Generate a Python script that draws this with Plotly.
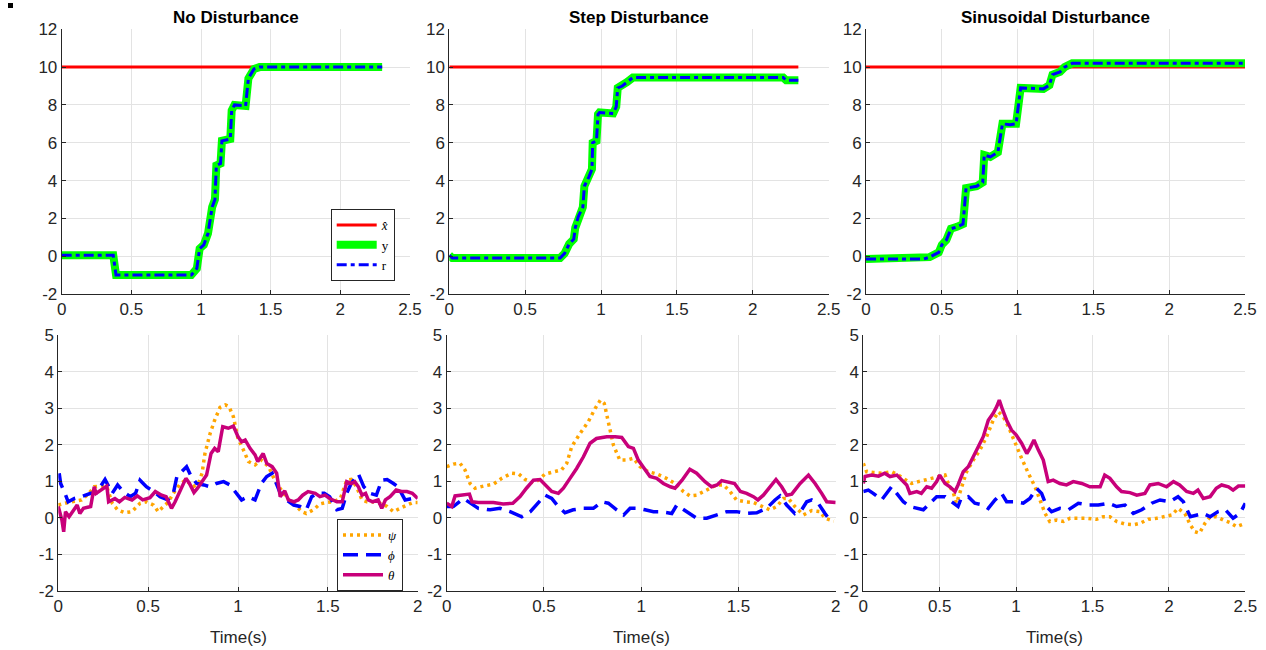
import plotly.graph_objects as go

W, H = 1266, 650

# ---------------- data: top row (position tracking) ----------------
xhat_level = 10
top_t_end = [2.3, 2.3, 2.5]

top1_t = [0, 0.37, 0.39, 0.93, 0.97, 0.99, 1.02, 1.05, 1.08, 1.10, 1.11, 1.14, 1.15, 1.21, 1.22, 1.24, 1.32, 1.33, 1.34, 1.38, 1.42, 2.3]
top1_y = [0.05, 0.05, -1.0, -1.0, -0.65, 0.4, 0.6, 1.2, 2.6, 3.0, 4.8, 4.9, 6.1, 6.2, 7.7, 8.0, 7.95, 8.9, 9.4, 9.9, 10.0, 10.0]

top2_t = [0, 0.02, 0.73, 0.76, 0.79, 0.82, 0.83, 0.85, 0.88, 0.89, 0.92, 0.94, 0.945, 0.97, 0.98, 0.99, 1.08, 1.10, 1.11, 1.14, 1.17, 1.21, 2.2, 2.22, 2.3]
top2_y = [0.05, -0.1, -0.1, 0.15, 0.65, 0.9, 1.5, 2.1, 2.6, 3.7, 4.2, 4.6, 6.0, 6.1, 7.5, 7.6, 7.55, 7.9, 8.9, 9.0, 9.2, 9.45, 9.45, 9.3, 9.3]

top3_t = [0, 0.38, 0.42, 0.48, 0.50, 0.53, 0.56, 0.60, 0.64, 0.66, 0.73, 0.77, 0.78, 0.82, 0.87, 0.90, 0.95, 0.99, 1.02, 1.17, 1.21, 1.23, 1.28, 1.31, 1.36, 2.5]
top3_y = [-0.15, -0.15, -0.05, 0.2, 0.6, 0.85, 1.45, 1.55, 1.7, 3.6, 3.7, 3.9, 5.35, 5.25, 5.5, 7.0, 6.95, 7.0, 8.9, 8.85, 9.05, 9.6, 9.75, 10.0, 10.2, 10.2]

# ---------------- data: bottom row (attitude angles) ----------------
# Panel 1: No disturbance
b1_theta_t = [0, 0.02, 0.03, 0.04, 0.06, 0.08, 0.105, 0.12, 0.14, 0.18, 0.2, 0.21, 0.24, 0.27, 0.28, 0.315, 0.34, 0.37, 0.41, 0.44, 0.47, 0.51, 0.54, 0.575, 0.6, 0.63, 0.65, 0.68, 0.71, 0.73, 0.755, 0.775, 0.81, 0.825, 0.85, 0.87, 0.89, 0.915, 0.946, 0.974, 1.0, 1.02, 1.04, 1.067, 1.095, 1.11, 1.14, 1.16, 1.19, 1.215, 1.235, 1.26, 1.28, 1.31, 1.335, 1.36, 1.39, 1.43, 1.456, 1.484, 1.51, 1.55, 1.58, 1.605, 1.63, 1.65, 1.67, 1.69, 1.71, 1.725, 1.75, 1.78, 1.8, 1.82, 1.846, 1.88, 1.91, 1.94, 1.97, 2.0]
b1_theta = [0.31, -0.06, -0.38, 0.17, 0.03, 0.17, 0.35, 0.12, 0.26, 0.31, 0.85, 0.67, 0.76, 0.87, 0.44, 0.53, 0.44, 0.56, 0.49, 0.6, 0.49, 0.55, 0.72, 0.62, 0.58, 0.26, 0.44, 0.76, 1.08, 0.94, 0.69, 0.81, 1.08, 1.17, 1.76, 1.9, 1.81, 2.49, 2.45, 2.51, 2.22, 2.08, 2.13, 1.9, 1.72, 1.54, 1.76, 1.49, 1.4, 1.22, 0.58, 0.74, 0.49, 0.44, 0.49, 0.62, 0.72, 0.67, 0.58, 0.62, 0.53, 0.44, 0.44, 0.99, 0.94, 0.99, 0.85, 0.62, 0.67, 0.49, 0.44, 0.49, 0.26, 0.49, 0.58, 0.76, 0.72, 0.72, 0.67, 0.53]

b1_psi_t = [0, 0.03, 0.055, 0.09, 0.13, 0.17, 0.2, 0.24, 0.27, 0.3, 0.33, 0.37, 0.41, 0.455, 0.49, 0.53, 0.556, 0.585, 0.61, 0.64, 0.68, 0.71, 0.75, 0.78, 0.8, 0.816, 0.845, 0.87, 0.9, 0.93, 0.95, 0.974, 1.0, 1.03, 1.058, 1.095, 1.13, 1.17, 1.2, 1.234, 1.26, 1.29, 1.327, 1.354, 1.38, 1.42, 1.456, 1.49, 1.53, 1.57, 1.605, 1.63, 1.66, 1.69, 1.716, 1.75, 1.79, 1.83, 1.865, 1.9, 1.94, 1.975, 2.0]
b1_psi = [0.35, 0.4, 0.42, 0.45, 0.49, 0.67, 0.85, 0.87, 0.85, 0.4, 0.22, 0.14, 0.17, 0.4, 0.44, 0.35, 0.17, 0.31, 0.42, 0.67, 0.94, 1.03, 0.85, 0.94, 1.22, 1.76, 2.31, 2.67, 3.02, 3.09, 3.04, 2.77, 2.17, 1.86, 1.54, 1.45, 1.58, 1.4, 1.08, 0.81, 0.62, 0.44, 0.31, 0.17, 0.12, 0.22, 0.38, 0.42, 0.44, 0.53, 1.03, 1.05, 0.85, 0.49, 0.44, 0.44, 0.4, 0.31, 0.17, 0.26, 0.35, 0.42, 0.42]

b1_phi_t = [0.005, 0.013, 0.037, 0.055, 0.09, 0.13, 0.18, 0.21, 0.26, 0.28, 0.3, 0.33, 0.36, 0.4, 0.43, 0.455, 0.49, 0.53, 0.566, 0.61, 0.64, 0.66, 0.686, 0.714, 0.74, 0.77, 0.81, 0.845, 0.88, 0.92, 0.955, 0.99, 1.02, 1.056, 1.095, 1.13, 1.16, 1.19, 1.215, 1.243, 1.27, 1.31, 1.345, 1.38, 1.41, 1.44, 1.48, 1.51, 1.55, 1.58, 1.605, 1.63, 1.67, 1.7, 1.735, 1.77, 1.8, 1.83, 1.865, 1.89, 1.93, 1.97, 2.0]
b1_phi = [1.22, 0.94, 0.67, 0.44, 0.53, 0.58, 0.67, 0.67, 1.05, 0.85, 0.67, 0.9, 0.72, 0.58, 0.67, 1.03, 0.85, 0.72, 0.58, 0.49, 0.67, 1.13, 1.26, 1.4, 1.13, 0.94, 0.9, 0.85, 0.94, 0.99, 0.9, 0.67, 0.49, 0.58, 0.49, 0.94, 1.13, 1.22, 0.94, 0.58, 0.49, 0.35, 0.31, 0.22, 0.58, 0.67, 0.67, 0.58, 0.22, 0.26, 0.67, 0.94, 1.2, 0.85, 0.67, 0.62, 1.03, 1.05, 0.94, 0.85, 0.49, 0.53, 0.62]

# Panel 2: Step disturbance
b2_theta_t = [0, 0.026, 0.043, 0.086, 0.117, 0.13, 0.163, 0.24, 0.29, 0.34, 0.377, 0.41, 0.446, 0.48, 0.506, 0.54, 0.574, 0.6, 0.634, 0.668, 0.703, 0.737, 0.77, 0.823, 0.866, 0.9, 0.934, 0.96, 0.985, 1.01, 1.045, 1.08, 1.114, 1.15, 1.174, 1.21, 1.25, 1.285, 1.328, 1.362, 1.39, 1.414, 1.457, 1.48, 1.51, 1.542, 1.577, 1.6, 1.628, 1.662, 1.693, 1.722, 1.748, 1.774, 1.817, 1.86, 1.894, 1.928, 1.954, 2.0]
b2_theta = [0.4, 0.31, 0.6, 0.62, 0.65, 0.44, 0.42, 0.42, 0.38, 0.4, 0.58, 0.81, 1.03, 1.05, 0.9, 0.72, 0.67, 0.81, 1.08, 1.35, 1.67, 2.04, 2.17, 2.22, 2.22, 2.2, 1.95, 1.9, 1.58, 1.4, 1.13, 1.08, 0.94, 0.85, 0.81, 1.03, 1.33, 1.22, 0.99, 0.85, 0.9, 1.02, 0.96, 0.94, 0.72, 0.67, 0.58, 0.49, 0.62, 0.85, 1.05, 0.85, 0.62, 0.65, 0.94, 1.17, 0.94, 0.67, 0.44, 0.42]

b2_psi_t = [0, 0.034, 0.069, 0.094, 0.12, 0.146, 0.19, 0.24, 0.283, 0.334, 0.37, 0.403, 0.446, 0.47, 0.506, 0.548, 0.59, 0.617, 0.643, 0.686, 0.728, 0.763, 0.79, 0.81, 0.83, 0.857, 0.89, 0.926, 0.96, 0.994, 1.037, 1.08, 1.13, 1.174, 1.217, 1.25, 1.285, 1.337, 1.388, 1.423, 1.457, 1.49, 1.534, 1.577, 1.62, 1.662, 1.697, 1.731, 1.757, 1.79, 1.834, 1.877, 1.92, 1.945, 1.99]
b2_psi = [1.4, 1.47, 1.49, 1.31, 0.94, 0.81, 0.87, 0.92, 1.08, 1.22, 1.2, 1.05, 0.96, 1.03, 1.2, 1.26, 1.31, 1.49, 1.95, 2.31, 2.63, 2.99, 3.22, 3.13, 2.67, 1.99, 1.58, 1.58, 1.63, 1.4, 1.26, 1.2, 1.08, 0.94, 0.72, 0.6, 0.62, 0.76, 0.9, 0.9, 0.72, 0.49, 0.44, 0.42, 0.31, 0.22, 0.31, 0.53, 0.53, 0.31, 0.08, 0.2, 0.17, -0.01, -0.09]

b2_phi_t = [0, 0.034, 0.086, 0.12, 0.163, 0.223, 0.274, 0.326, 0.386, 0.43, 0.47, 0.506, 0.54, 0.574, 0.608, 0.65, 0.703, 0.754, 0.797, 0.831, 0.874, 0.91, 0.943, 0.986, 1.02, 1.063, 1.097, 1.157, 1.183, 1.217, 1.26, 1.285, 1.337, 1.388, 1.44, 1.49, 1.54, 1.594, 1.645, 1.688, 1.714, 1.748, 1.79, 1.825, 1.851, 1.877, 1.91, 1.945, 1.97]
b2_phi = [0.31, 0.31, 0.53, 0.4, 0.26, 0.22, 0.26, 0.17, 0.03, 0.17, 0.4, 0.62, 0.53, 0.31, 0.14, 0.22, 0.26, 0.26, 0.44, 0.4, 0.22, 0.08, 0.26, 0.26, 0.22, 0.17, 0.17, 0.12, 0.35, 0.22, 0.08, -0.01, -0.01, 0.08, 0.17, 0.17, 0.12, 0.14, 0.26, 0.49, 0.6, 0.35, 0.12, 0.22, 0.44, 0.49, 0.4, 0.12, -0.06]

# Panel 3: Sinusoidal disturbance
b3_theta_t = [0, 0.01, 0.055, 0.1, 0.14, 0.175, 0.22, 0.25, 0.284, 0.305, 0.35, 0.38, 0.415, 0.447, 0.48, 0.5, 0.535, 0.567, 0.6, 0.62, 0.654, 0.687, 0.72, 0.753, 0.785, 0.818, 0.85, 0.873, 0.89, 0.912, 0.938, 0.97, 1.0, 1.036, 1.07, 1.09, 1.117, 1.145, 1.178, 1.21, 1.243, 1.287, 1.33, 1.374, 1.43, 1.483, 1.55, 1.58, 1.614, 1.658, 1.69, 1.745, 1.79, 1.843, 1.876, 1.93, 1.985, 2.03, 2.07, 2.116, 2.16, 2.19, 2.225, 2.27, 2.31, 2.345, 2.39, 2.42, 2.455, 2.5]
b3_theta = [0.94, 1.13, 1.17, 1.14, 1.22, 1.13, 1.17, 1.03, 0.9, 0.67, 0.72, 0.67, 0.85, 0.81, 0.99, 1.17, 0.94, 0.85, 0.72, 0.9, 1.26, 1.4, 1.67, 1.95, 2.22, 2.67, 2.86, 3.04, 3.22, 2.95, 2.67, 2.4, 2.27, 2.04, 1.76, 1.9, 2.13, 1.86, 1.58, 0.99, 1.03, 0.94, 0.9, 0.99, 0.94, 0.85, 0.85, 1.17, 1.08, 0.85, 0.72, 0.69, 0.62, 0.67, 0.9, 0.94, 0.85, 0.99, 0.9, 0.72, 0.67, 0.76, 0.53, 0.58, 0.81, 0.9, 0.85, 0.76, 0.87, 0.87]

b3_psi_t = [0, 0.022, 0.065, 0.13, 0.185, 0.23, 0.273, 0.316, 0.36, 0.404, 0.447, 0.49, 0.535, 0.556, 0.59, 0.61, 0.644, 0.676, 0.72, 0.764, 0.807, 0.85, 0.884, 0.916, 0.95, 0.992, 1.036, 1.08, 1.124, 1.156, 1.19, 1.22, 1.265, 1.31, 1.353, 1.407, 1.46, 1.527, 1.57, 1.614, 1.658, 1.713, 1.767, 1.81, 1.865, 1.92, 1.975, 2.02, 2.06, 2.105, 2.14, 2.17, 2.2, 2.236, 2.27, 2.312, 2.356, 2.4, 2.443, 2.5]
b3_psi = [1.49, 1.26, 1.24, 1.22, 1.26, 1.17, 1.05, 0.94, 0.99, 1.03, 1.08, 1.13, 1.17, 0.94, 0.67, 0.4, 0.85, 1.26, 1.58, 1.86, 2.22, 2.67, 2.9, 2.77, 2.49, 2.04, 1.63, 1.22, 0.85, 0.49, 0.12, -0.1, -0.06, -0.1, -0.01, -0.01, -0.01, -0.04, 0.03, 0.03, -0.1, -0.17, -0.19, -0.15, -0.04, -0.01, 0.03, 0.08, 0.26, 0.12, -0.19, -0.38, -0.42, -0.15, 0.03, 0.03, -0.06, -0.13, -0.24, -0.15]

b3_phi_t = [0, 0.033, 0.065, 0.12, 0.185, 0.218, 0.262, 0.305, 0.35, 0.393, 0.436, 0.48, 0.535, 0.578, 0.62, 0.64, 0.687, 0.73, 0.785, 0.818, 0.862, 0.905, 0.938, 0.993, 1.047, 1.09, 1.134, 1.167, 1.2, 1.232, 1.287, 1.342, 1.407, 1.473, 1.538, 1.604, 1.658, 1.713, 1.767, 1.822, 1.887, 1.942, 2.007, 2.06, 2.095, 2.14, 2.18, 2.225, 2.27, 2.322, 2.37, 2.42, 2.465, 2.5]
b3_phi = [0.72, 0.76, 0.67, 0.49, 0.85, 0.67, 0.44, 0.31, 0.26, 0.22, 0.4, 0.58, 0.58, 0.44, 0.31, 0.53, 0.58, 0.4, 0.35, 0.26, 0.49, 0.67, 0.44, 0.44, 0.4, 0.53, 0.81, 0.67, 0.31, 0.17, 0.26, 0.22, 0.4, 0.35, 0.35, 0.4, 0.31, 0.35, 0.12, 0.22, 0.4, 0.49, 0.44, 0.58, 0.44, 0.03, 0.08, 0.12, 0.03, 0.17, 0.22, -0.01, 0.12, 0.4]

titles = ["No Disturbance", "Step Disturbance", "Sinusoidal Disturbance"]
top_xticks = [0, 0.5, 1, 1.5, 2, 2.5]
top_yticks = [-2, 0, 2, 4, 6, 8, 10, 12]
bot_yticks = [-2, -1, 0, 1, 2, 3, 4, 5]
bot_xranges = [[0, 2], [0, 2], [0, 2.5]]
bot_xticks = [[0, 0.5, 1, 1.5, 2], [0, 0.5, 1, 1.5, 2], [0, 0.5, 1, 1.5, 2, 2.5]]
xlabel = "Time(s)"

# ---------------- styling ----------------
RED = "#ff0000"
GREEN = "#00ff00"
BLUE = "#0000ff"
ORANGE = "#ffa500"
MAGENTA = "#c8007a"
AX = "#262626"
GRID = "#e3e3e3"
SANS = "Liberation Sans, Arial, sans-serif"
SERIF = "Liberation Serif, Times New Roman, serif"

# pixel layout of plot areas
top_x_px = [(61.7, 410.0), (449.3, 828.7), (866.0, 1245.0)]
bot_x_px = [(58.3, 417.7), (446.7, 835.7), (863.3, 1245.3)]
top_y_px = (29.3, 294.0)
bot_y_px = (335.0, 591.0)

def xd(p):
    return [p[0] / W, p[1] / W]

def yd(p):
    return [1 - p[1] / H, 1 - p[0] / H]

def lab(v):
    return f"{v:g}"   # plain hyphen-minus like the original

fig = go.Figure()

tops = [(top1_t, top1_y), (top2_t, top2_y), (top3_t, top3_y)]
bots = [
    (b1_psi_t, b1_psi, b1_phi_t, b1_phi, b1_theta_t, b1_theta),
    (b2_psi_t, b2_psi, b2_phi_t, b2_phi, b2_theta_t, b2_theta),
    (b3_psi_t, b3_psi, b3_phi_t, b3_phi, b3_theta_t, b3_theta),
]

for i, (tt, yy) in enumerate(tops):
    xa = "x" if i == 0 else f"x{i+1}"
    ya = "y" if i == 0 else f"y{i+1}"
    show = i == 0
    fig.add_trace(go.Scatter(x=[0, top_t_end[i]], y=[xhat_level, xhat_level], mode="lines",
                             line=dict(color=RED, width=3), name="<i>x̂</i>",
                             xaxis=xa, yaxis=ya, showlegend=show, legend="legend"))
    fig.add_trace(go.Scatter(x=tt, y=yy, mode="lines", line=dict(color=GREEN, width=8),
                             name="y", xaxis=xa, yaxis=ya, showlegend=show, legend="legend"))
    fig.add_trace(go.Scatter(x=tt, y=yy, mode="lines",
                             line=dict(color=BLUE, width=3, dash="10px,4px,4px,4px"),
                             name="r", xaxis=xa, yaxis=ya, showlegend=show, legend="legend"))

for i, (pt, pv, ft, fv, tt, tv) in enumerate(bots):
    xa = f"x{i+4}"
    ya = f"y{i+4}"
    show = i == 0
    fig.add_trace(go.Scatter(x=pt, y=pv, mode="lines",
                             line=dict(color=ORANGE, width=3.5, dash="3px,4px"),
                             name="<i>ψ</i>", xaxis=xa, yaxis=ya, showlegend=show, legend="legend2"))
    fig.add_trace(go.Scatter(x=ft, y=fv, mode="lines",
                             line=dict(color=BLUE, width=3.5, dash="15px,8px"),
                             name="<i>ϕ</i>", xaxis=xa, yaxis=ya, showlegend=show, legend="legend2"))
    fig.add_trace(go.Scatter(x=tt, y=tv, mode="lines",
                             line=dict(color=MAGENTA, width=3.5),
                             name="<i>θ</i>", xaxis=xa, yaxis=ya, showlegend=show, legend="legend2"))

common = dict(showline=True, linecolor=AX, linewidth=1, ticks="inside", ticklen=4,
              tickcolor=AX, showgrid=True, gridcolor=GRID, gridwidth=1, zeroline=False,
              tickfont=dict(family=SANS, size=17, color=AX), mirror=False, fixedrange=True,
              automargin=False)

legend_common = dict(xanchor="left", yanchor="top", bgcolor="white", bordercolor=AX,
                     borderwidth=1, font=dict(family=SERIF, size=13, color="black"),
                     itemwidth=40, tracegroupgap=0)

layout = dict(
    width=W, height=H, margin=dict(l=0, r=0, t=0, b=0, pad=0, autoexpand=False),
    paper_bgcolor="white", plot_bgcolor="white",
    showlegend=True,
    legend=dict(legend_common, x=330.7 / W, y=1 - 209 / H),
    legend2=dict(legend_common, x=337 / W, y=1 - 519 / H),
)

for i in range(3):
    k = "" if i == 0 else str(i + 1)
    layout[f"xaxis{k}"] = dict(common, domain=xd(top_x_px[i]), range=[0, 2.5],
                               tickvals=top_xticks, ticktext=[lab(v) for v in top_xticks],
                               anchor=f"y{k}")
    layout[f"yaxis{k}"] = dict(common, domain=yd(top_y_px), range=[-2, 12],
                               tickvals=top_yticks, ticktext=[lab(v) for v in top_yticks],
                               anchor=f"x{k}")
for i in range(3):
    k = str(i + 4)
    layout[f"xaxis{k}"] = dict(common, domain=xd(bot_x_px[i]), range=bot_xranges[i],
                               tickvals=bot_xticks[i], ticktext=[lab(v) for v in bot_xticks[i]],
                               anchor=f"y{k}")
    layout[f"yaxis{k}"] = dict(common, domain=yd(bot_y_px), range=[-2, 5],
                               tickvals=bot_yticks, ticktext=[lab(v) for v in bot_yticks],
                               anchor=f"x{k}")

annotations = []
for i in range(3):
    cx = (top_x_px[i][0] + top_x_px[i][1]) / 2
    annotations.append(dict(text=f"<b>{titles[i]}</b>", x=cx / W, y=1 - 18 / H,
                            xref="paper", yref="paper", showarrow=False,
                            xanchor="center", yanchor="middle",
                            font=dict(family=SANS, size=17, color="black")))
    bx = (bot_x_px[i][0] + bot_x_px[i][1]) / 2
    annotations.append(dict(text=xlabel, x=bx / W, y=1 - 637 / H,
                            xref="paper", yref="paper", showarrow=False,
                            xanchor="center", yanchor="middle",
                            font=dict(family=SANS, size=17, color=AX)))
layout["annotations"] = annotations
layout["shapes"] = [dict(type="rect", xref="paper", yref="paper",
                         x0=8 / W, x1=13 / W, y0=1 - 8 / H, y1=1 - 3 / H,
                         fillcolor="black", line=dict(width=0))]

fig.update_layout(**layout)
fig.write_html("out.html")
